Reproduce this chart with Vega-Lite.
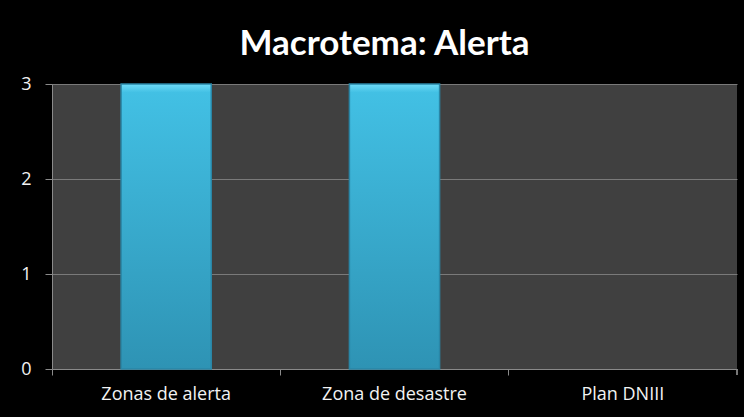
{
  "$schema": "https://vega.github.io/schema/vega-lite/v6.json",
  "autosize": {"type": "none"},
  "width": 685,
  "height": 285,
  "padding": {"left": 52, "top": 84, "right": 7, "bottom": 48},
  "background": "#000000",
  "title": {
    "text": "Macrotema: Alerta",
    "color": "#ffffff",
    "font": "Lato",
    "fontSize": 35,
    "fontWeight": "bold",
    "anchor": "middle",
    "dx": -10,
    "offset": 13
  },
  "config": {
    "view": {"fill": "#404040", "stroke": null},
    "axis": {"labelFont": "Open Sans", "labelColor": "#f2f2f2", "labelFontSize": 18, "title": null}
  },
  "data": {
    "values": [
      {"categoria": "Zonas de alerta", "valor": 3},
      {"categoria": "Zona de desastre", "valor": 3},
      {"categoria": "Plan DNIII", "valor": 0}
    ]
  },
  "layer": [
    {
      "mark": {
        "type": "bar",
        "width": {"band": 0.395},
        "color": {
          "gradient": "linear",
          "x1": 0, "y1": 0, "x2": 0, "y2": 1,
          "stops": [
            {"offset": 0, "color": "#6fdcf8"},
            {"offset": 0.03, "color": "#42c0e4"},
            {"offset": 1, "color": "#2e93b4"}
          ]
        },
        "stroke": "#2a86a6",
        "strokeWidth": 1.5
      },
      "encoding": {
        "x": {
          "field": "categoria",
          "type": "nominal",
          "sort": null,
          "scale": {"paddingInner": 0, "paddingOuter": 0},
          "axis": {
            "labelAngle": 0,
            "bandPosition": 0,
            "domainColor": "#8a8a8a",
            "tickColor": "#8a8a8a",
            "tickSize": 6,
            "labelPadding": 10,
            "grid": false
          }
        },
        "y": {
          "field": "valor",
          "type": "quantitative",
          "scale": {"domain": [0, 3], "nice": false},
          "axis": {
            "values": [0, 1, 2, 3],
            "format": "d",
            "grid": true,
            "gridColor": "#7a7a7a",
            "gridWidth": 1,
            "domainColor": "#8a8a8a",
            "tickColor": "#8a8a8a",
            "tickSize": 7,
            "labelPadding": 14
          }
        },
        "strokeOpacity": {"condition": {"test": "datum.valor > 0", "value": 1}, "value": 0}
      }
    },
    {
      "mark": {"type": "rule", "color": "#8a8a8a", "strokeWidth": 1},
      "encoding": {
        "x": {"value": 685},
        "y": {"value": 285},
        "y2": {"value": 291}
      }
    }
  ]
}
